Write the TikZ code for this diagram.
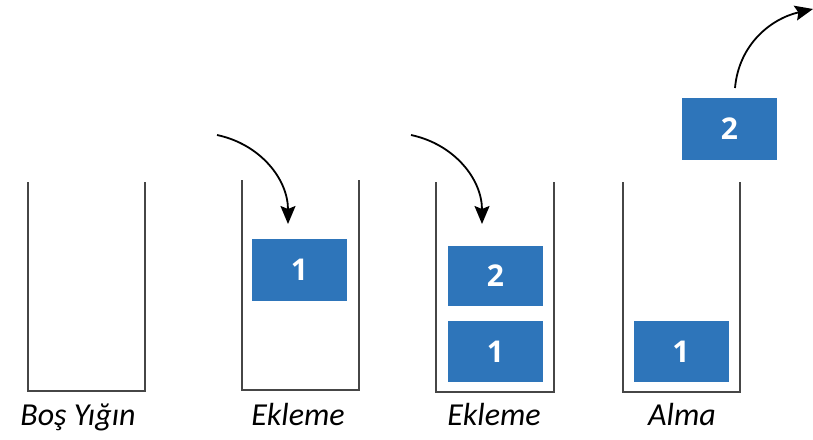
\documentclass[tikz,border=0pt]{standalone}
\usepackage{fontspec}
\usetikzlibrary{arrows.meta}
\newfontfamily\labelfont{Carlito}
\newfontfamily\digitfont{Open Sans}
\definecolor{itemblue}{RGB}{46,117,186}
\definecolor{wallgray}{RGB}{70,70,70}
\tikzset{
  wall/.style={draw=wallgray, line width=2pt},
  item/.style={rectangle, fill=itemblue, minimum width=95pt, minimum height=62pt,
    inner sep=0pt, text=white, font=\digitfont\bfseries\fontsize{30}{30}\selectfont},
  caption/.style={anchor=base, inner sep=0pt, font=\labelfont\itshape\fontsize{32}{32}\selectfont},
  move/.style={line width=1.8pt, -{Stealth[length=18pt, width=15pt, inset=3pt]}}
}
\begin{document}
\begin{tikzpicture}[x=1pt, y=-1pt]
  \useasboundingbox (0,0) rectangle (813,439);

  % empty stack
  \draw[wall] (28,182) -- (28,391) -- (145,391) -- (145,182);
  \node[caption] (lab1) at (78,425) {Boş Yığın};

  % first push
  \draw[wall] (242,180) -- (242,390) -- (359,390) -- (359,180);
  \node[item] (a1) at (299.5,270) {1};
  \node[caption] (lab2) at (298,425) {Ekleme};
  \coordinate (pushA) at (217,135);
  \coordinate (dropA) at (288,224);
  \draw[move] (pushA) to[out=-12, in=90] (dropA);

  % second push
  \draw[wall] (436,182) -- (436,392) -- (554,392) -- (554,182);
  \node[item, minimum height=60pt] (b2) at (495.5,276) {2};
  \node[item, minimum height=61pt] (b1) at (495.5,351.5) {1};
  \node[caption] (lab3) at (494,425) {Ekleme};
  \coordinate (pushB) at (411,135);
  \coordinate (dropB) at (482,224);
  \draw[move] (pushB) to[out=-12, in=90] (dropB);

  % pop
  \draw[wall] (623,182) -- (623,392) -- (740,392) -- (740,182);
  \node[item, minimum height=61pt] (c1) at (681,351.5) {1};
  \node[item] (c2) at (729.5,129) {2};
  \node[caption] (lab4) at (682,425) {Alma};
  \coordinate (liftC) at (735,88);
  \coordinate (outC) at (813,9);
  \draw[move] (liftC) to[out=85, in=193] (outC);
\end{tikzpicture}
\end{document}
